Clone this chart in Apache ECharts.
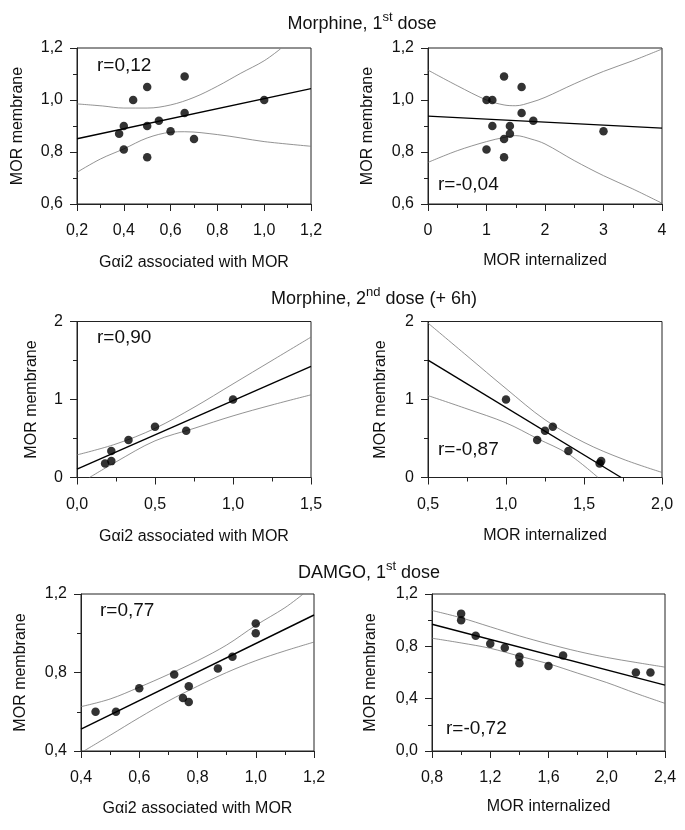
<!DOCTYPE html>
<html>
<head>
<meta charset="utf-8">
<script src="https://cdn.jsdelivr.net/npm/echarts@6/dist/echarts.min.js"></script>
<style>
  html, body { margin: 0; padding: 0; background: #fff; }
  #chart { width: 685px; height: 830px; }
</style>
</head>
<body>
<div id="chart"></div>
<script>
// Morphine, 1st dose
const p1X = [0.38, 0.40, 0.40, 0.44, 0.50, 0.50, 0.50, 0.55, 0.60, 0.66, 0.66, 0.70, 1.00];
const p1Y = [0.87, 0.90, 0.81, 1.00, 1.05, 0.90, 0.78, 0.92, 0.88, 1.09, 0.95, 0.85, 1.00];
const p1Fit = [[0.2, 0.851], [1.2, 1.044]];
const p1Upper = [[0.2, 0.985], [0.31, 0.977], [0.4, 0.969], [0.5, 0.969], [0.6, 0.981], [0.7, 1.01], [0.8, 1.053], [0.9, 1.103], [1.0, 1.151], [1.07, 1.197]];
const p1Lower = [[0.2, 0.722], [0.3, 0.773], [0.4, 0.812], [0.5, 0.854], [0.6, 0.876], [0.66, 0.878], [0.8, 0.867], [0.9, 0.854], [1.0, 0.84], [1.2, 0.822]];

const p2X = [1.0, 1.1, 1.3, 1.6, 1.6, 1.8, 1.1, 1.4, 1.4, 1.3, 1.0, 1.3, 3.0];
const p2Y = [1.00, 1.00, 1.09, 1.05, 0.95, 0.92, 0.90, 0.90, 0.87, 0.85, 0.81, 0.78, 0.88];
const p2Fit = [[0, 0.938], [4, 0.892]];
const p2Upper = [[0, 1.115], [0.5, 1.055], [1.0, 1.0], [1.3, 0.981], [1.5, 0.978], [1.76, 0.991], [2.0, 1.01], [2.5, 1.062], [3.0, 1.11], [3.5, 1.151], [4.0, 1.196]];
const p2Lower = [[0, 0.76], [0.5, 0.805], [1.0, 0.84], [1.3, 0.856], [1.5, 0.863], [1.76, 0.85], [2.0, 0.831], [2.5, 0.767], [3.0, 0.709], [3.5, 0.658], [4.0, 0.603]];

// Morphine, 2nd dose (+ 6h)
const p3X = [0.18, 0.22, 0.22, 0.33, 0.50, 0.70, 1.00];
const p3Y = [0.18, 0.21, 0.34, 0.48, 0.65, 0.60, 1.00];
const p3Fit = [[0, 0.106], [1.5, 1.426]];
const p3Upper = [[0, 0.29], [0.25, 0.43], [0.5, 0.63], [0.75, 0.9], [1.0, 1.2], [1.25, 1.5], [1.5, 1.8]];
const p3Lower = [[0.08, 0], [0.25, 0.2], [0.5, 0.47], [0.75, 0.63], [1.0, 0.79], [1.25, 0.93], [1.5, 1.06]];

const p4X = [1.00, 1.20, 1.25, 1.30, 1.40, 1.60, 1.61];
const p4Y = [1.00, 0.48, 0.60, 0.65, 0.34, 0.18, 0.21];
const p4Fit = [[0.5, 1.506], [1.738, 0]];
const p4Upper = [[0.5, 1.98], [0.75, 1.56], [1.0, 1.14], [1.25, 0.74], [1.5, 0.45], [1.75, 0.235], [2.0, 0.065]];
const p4Lower = [[0.5, 1.05], [0.75, 0.88], [1.0, 0.7], [1.2, 0.5], [1.4, 0.3], [1.59, 0]];

// DAMGO, 1st dose
const p5X = [0.45, 0.52, 0.60, 0.72, 0.75, 0.77, 0.77, 0.87, 0.92, 1.00, 1.00];
const p5Y = [0.60, 0.60, 0.72, 0.79, 0.67, 0.65, 0.73, 0.82, 0.88, 1.00, 1.05];
const p5Fit = [[0.4, 0.511], [1.2, 1.093]];
const p5Upper = [[0.4, 0.626], [0.5, 0.665], [0.6, 0.725], [0.7, 0.79], [0.8, 0.86], [0.9, 0.94], [1.0, 1.04], [1.1, 1.13], [1.163, 1.2]];
const p5Lower = [[0.41, 0.4], [0.5, 0.48], [0.6, 0.57], [0.7, 0.655], [0.8, 0.73], [0.9, 0.8], [1.0, 0.86], [1.1, 0.91], [1.2, 0.955]];

const p6X = [1.0, 1.0, 1.1, 1.2, 1.3, 1.4, 1.4, 1.6, 1.7, 2.2, 2.3];
const p6Y = [1.05, 1.00, 0.88, 0.82, 0.79, 0.72, 0.67, 0.65, 0.73, 0.60, 0.60];
const p6Fit = [[0.8, 0.969], [2.4, 0.503]];
const p6Upper = [[0.8, 1.074], [1.0, 1.018], [1.2, 0.949], [1.4, 0.88], [1.6, 0.818], [1.8, 0.762], [2.0, 0.715], [2.2, 0.677], [2.4, 0.641]];
const p6Lower = [[0.8, 0.862], [1.0, 0.826], [1.2, 0.785], [1.4, 0.725], [1.6, 0.667], [1.8, 0.595], [2.0, 0.523], [2.2, 0.441], [2.4, 0.364]];

const rLabels = ['r=0,12', 'r=-0,04', 'r=0,90', 'r=-0,87', 'r=0,77', 'r=-0,72'];

const FONT = 'Liberation Sans, Arial, sans-serif';
const INK = '#111';

const comma = (d) => (v) => v.toFixed(d).replace('.', ',');

const panels = [
  { grid: [77, 48, 234, 156], x: [0.2, 1.2, 0.2, 1], y: [0.6, 1.2, 0.2, 1], xName: 'Gαi2 associated with MOR', xGap: 51, yGap: 51,
    xs: p1X, ys: p1Y, fit: p1Fit, up: p1Upper, lo: p1Lower, r: [97, 66] },
  { grid: [428, 48, 234, 156], x: [0, 4, 1, 0], y: [0.6, 1.2, 0.2, 1], xName: 'MOR internalized', xGap: 49, yGap: 52,
    xs: p2X, ys: p2Y, fit: p2Fit, up: p2Upper, lo: p2Lower, r: [438, 185] },
  { grid: [77, 321.5, 234, 156], x: [0, 1.5, 0.5, 1], y: [0, 2, 1, 0], xName: 'Gαi2 associated with MOR', xGap: 51, yGap: 37,
    xs: p3X, ys: p3Y, fit: p3Fit, up: p3Upper, lo: p3Lower, r: [97, 338] },
  { grid: [428, 321.5, 234, 156], x: [0.5, 2, 0.5, 1], y: [0, 2, 1, 0], xName: 'MOR internalized', xGap: 50, yGap: 39,
    xs: p4X, ys: p4Y, fit: p4Fit, up: p4Upper, lo: p4Lower, r: [438, 450] },
  { grid: [81, 594, 233, 157], x: [0.4, 1.2, 0.2, 1], y: [0.4, 1.2, 0.4, 1], xName: 'Gαi2 associated with MOR', xGap: 50, yGap: 52,
    xs: p5X, ys: p5Y, fit: p5Fit, up: p5Upper, lo: p5Lower, r: [100, 611] },
  { grid: [432, 594, 233, 157], x: [0.8, 2.4, 0.4, 1], y: [0, 1.2, 0.4, 1], xName: 'MOR internalized', xGap: 48, yGap: 53,
    xs: p6X, ys: p6Y, fit: p6Fit, up: p6Upper, lo: p6Lower, r: [446, 729] }
];

function axisBase(range, name, gap, isY) {
  return {
    type: 'value',
    min: range[0], max: range[1], interval: range[2],
    name: name, nameLocation: 'middle', nameGap: gap,
    nameTextStyle: { fontFamily: FONT, fontSize: 16, color: INK },
    axisLine: { show: true, lineStyle: { color: '#222', width: 1 } },
    axisTick: { show: true, length: 7, inside: false, lineStyle: { color: '#222' } },
    minorTick: { show: true, splitNumber: 2, length: 4, lineStyle: { color: '#222' } },
    splitLine: { show: false },
    axisLabel: { fontFamily: FONT, fontSize: 16, color: INK, margin: isY ? 14 : 19, formatter: comma(range[3]) }
  };
}

const grids = [], xAxes = [], yAxes = [], series = [], graphics = [];
panels.forEach((p, i) => {
  grids.push({ left: p.grid[0], top: p.grid[1], width: p.grid[2], height: p.grid[3], show: true, borderColor: '#222', borderWidth: 1, backgroundColor: 'transparent' });
  xAxes.push(Object.assign(axisBase(p.x, p.xName, p.xGap, false), { gridIndex: i }));
  yAxes.push(Object.assign(axisBase(p.y, 'MOR membrane', p.yGap, true), { gridIndex: i }));
  const band = { type: 'line', xAxisIndex: i, yAxisIndex: i, showSymbol: false, symbol: 'none', smooth: 0.35,
    lineStyle: { color: '#777', width: 0.8 }, z: 2 };
  series.push(Object.assign({}, band, { data: p.up }));
  series.push(Object.assign({}, band, { data: p.lo }));
  series.push({ type: 'line', xAxisIndex: i, yAxisIndex: i, showSymbol: false, symbol: 'none', data: p.fit,
    lineStyle: { color: '#000', width: 1.4 }, z: 3 });
  series.push({ type: 'scatter', xAxisIndex: i, yAxisIndex: i, symbolSize: 8.5, itemStyle: { color: '#000' },
    data: p.xs.map((x, k) => [x, p.ys[k]]), z: 4 });
  graphics.push({ type: 'text', x: p.r[0], y: p.r[1],
    style: { text: rLabels[i], font: '19px ' + FONT, fill: INK, verticalAlign: 'middle' } });
});

const titleRich = {
  a: { fontFamily: FONT, fontSize: 18, color: INK, lineHeight: 22, verticalAlign: 'bottom' },
  s: { fontFamily: FONT, fontSize: 13, color: INK, lineHeight: 15, verticalAlign: 'top' }
};
[
  ['{a|Morphine, 1}{s|st}{a| dose}', 362, 22],
  ['{a|Morphine, 2}{s|nd}{a| dose (+ 6h)}', 374, 297],
  ['{a|DAMGO, 1}{s|st}{a| dose}', 369, 571]
].forEach((t) => {
  graphics.push({ type: 'text', x: t[1], y: t[2],
    style: { text: t[0], rich: titleRich, align: 'center', verticalAlign: 'middle', fill: INK } });
});

const chart = echarts.init(document.getElementById('chart'), null, { renderer: 'canvas' });
chart.setOption({
  animation: false,
  backgroundColor: '#fff',
  grid: grids,
  xAxis: xAxes,
  yAxis: yAxes,
  series: series,
  graphic: graphics
});
</script>
</body>
</html>
